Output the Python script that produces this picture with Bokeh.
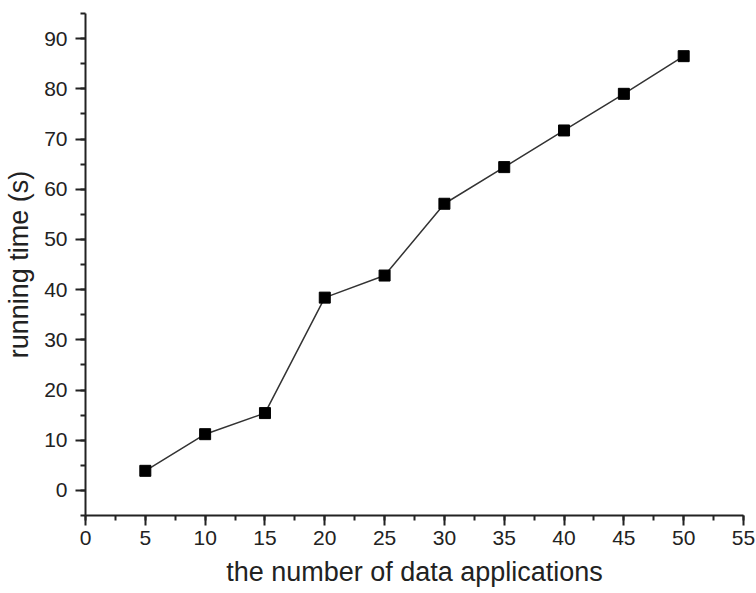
from bokeh.plotting import figure
from bokeh.models import Range1d, SingleIntervalTicker
from bokeh.embed import file_html
from bokeh.resources import INLINE

# number of data applications vs running time
apps = [5, 10, 15, 20, 25, 30, 35, 40, 45, 50]
run_time = [3.9, 11.2, 15.4, 38.4, 42.8, 57.1, 64.4, 71.7, 79.0, 86.5]

p = figure(width=756, height=592,
           x_range=Range1d(0, 55), y_range=Range1d(-5, 95),
           output_backend="svg", toolbar_location=None,
           min_border_left=85, min_border_right=13,
           min_border_top=13, min_border_bottom=77)

p.outline_line_color = None
p.xgrid.grid_line_color = None
p.ygrid.grid_line_color = None
p.background_fill_color = "white"
p.border_fill_color = "white"

p.xaxis.ticker = SingleIntervalTicker(interval=5, num_minor_ticks=2)
p.yaxis.ticker = SingleIntervalTicker(interval=10, num_minor_ticks=2)

for ax in (p.xaxis, p.yaxis):
    ax.axis_line_width = 2
    ax.axis_line_color = "#222222"
    ax.major_tick_line_width = 2
    ax.major_tick_line_color = "#222222"
    ax.minor_tick_line_width = 2
    ax.minor_tick_line_color = "#222222"
    ax.major_tick_in = 0
    ax.major_tick_out = 10
    ax.minor_tick_in = 0
    ax.minor_tick_out = 5
    ax.major_label_text_font = "Liberation Sans"
    ax.major_label_text_font_size = "21px"
    ax.major_label_text_color = "#222222"
    ax.axis_label_text_font = "Liberation Sans"
    ax.axis_label_text_font_size = "27px"
    ax.axis_label_text_font_style = "normal"
    ax.axis_label_text_color = "#222222"

p.xaxis.axis_label = "the number of data applications"
p.yaxis.axis_label = "running time (s)"
p.xaxis.major_label_standoff = 5
p.yaxis.major_label_standoff = 8
p.xaxis.axis_label_standoff = 9
p.yaxis.axis_label_standoff = 7

p.line(apps, run_time, line_color="#333333", line_width=1.5)
p.scatter(apps, run_time, marker="square", size=11,
          fill_color="black", line_color="black")

open("out.html", "w").write(file_html(p, INLINE))
